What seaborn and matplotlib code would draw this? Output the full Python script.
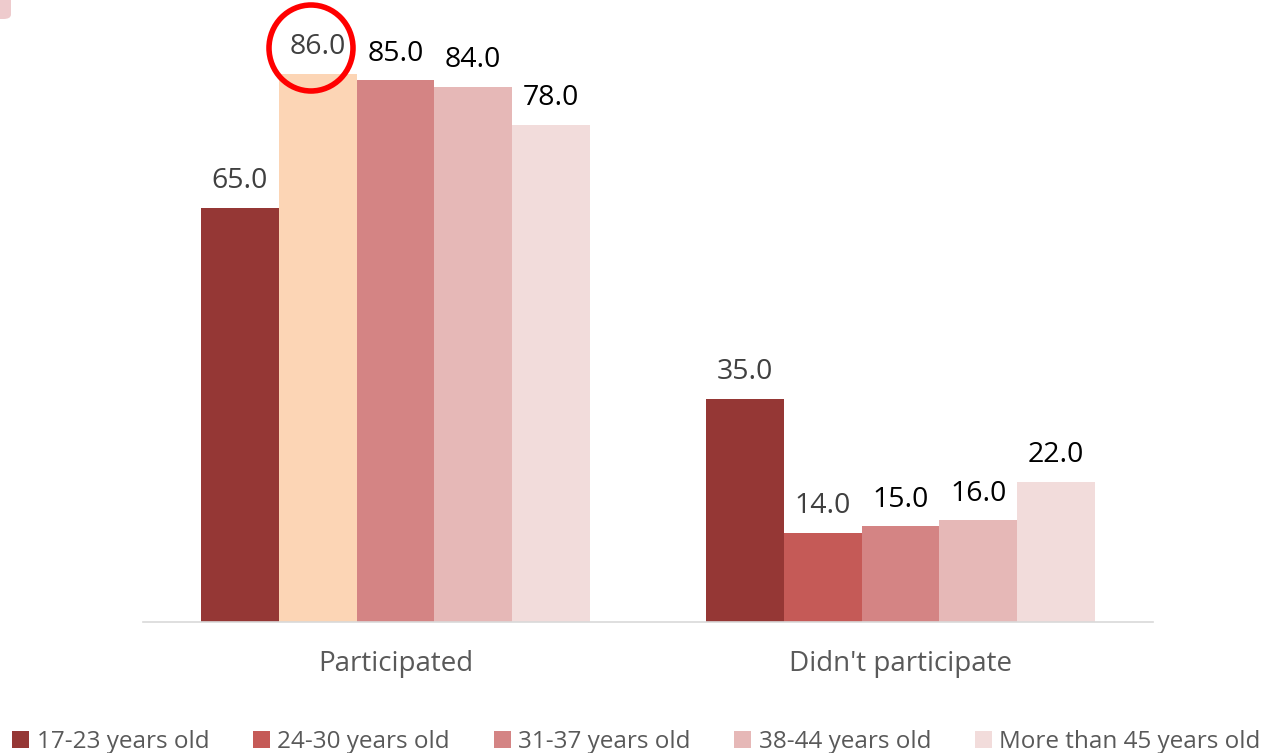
import matplotlib
matplotlib.use("Agg")
import matplotlib.pyplot as plt
from matplotlib.patches import Ellipse, Patch, FancyBboxPatch
import seaborn as sns
import pandas as pd

categories = ["Participated", "Didn't participate"]
age_groups = ["17-23 years old", "24-30 years old", "31-37 years old",
              "38-44 years old", "More than 45 years old"]
values = {
    "17-23 years old": [65.0, 35.0],
    "24-30 years old": [86.0, 14.0],
    "31-37 years old": [85.0, 15.0],
    "38-44 years old": [84.0, 16.0],
    "More than 45 years old": [78.0, 22.0],
}
colors = ["#953735", "#C55A57", "#D48484", "#E6B8B7", "#F2DCDB"]
highlight_color = "#FCD5B5"
label_colors = {
    "17-23 years old": ["#404040", "#404040"],
    "24-30 years old": ["#404040", "#404040"],
    "31-37 years old": ["#000000", "#000000"],
    "38-44 years old": ["#000000", "#000000"],
    "More than 45 years old": ["#000000", "#000000"],
}

rows = []
for g in age_groups:
    for c, v in zip(categories, values[g]):
        rows.append({"category": c, "age": g, "value": v})
df = pd.DataFrame(rows)

sns.set_theme(style="white")
plt.rcParams["font.family"] = ["Open Sans", "DejaVu Sans"]

fig = plt.figure(figsize=(12.73, 7.53), dpi=100)
ax = fig.add_axes([143 / 1273, 131 / 753, (1153 - 143) / 1273, 622 / 753])

sns.barplot(data=df, x="category", y="value", hue="age", order=categories,
            hue_order=age_groups, palette=colors, width=0.77, saturation=1,
            ax=ax, legend=False, linewidth=0)

# highlight bar
ax.containers[1][0].set_facecolor(highlight_color)

for cont, g in zip(ax.containers, age_groups):
    texts = ax.bar_label(cont, fmt="%.1f", padding=9, fontsize=20.5)
    for t, col in zip(texts, label_colors[g]):
        t.set_color(col)

ax.set_xlim(-0.5, 1.5)
ax.set_ylim(0, 97.6)
ax.set_xlabel("")
ax.set_ylabel("")
ax.set_yticks([])
for s in ["top", "left", "right"]:
    ax.spines[s].set_visible(False)
ax.spines["bottom"].set_color("#D9D9D9")
ax.spines["bottom"].set_linewidth(1.2)
ax.tick_params(axis="x", length=0, pad=20, labelsize=20, labelcolor="#595959")

# red circle highlight
circ = Ellipse((311 / 1273, 1 - 48 / 753), 84 / 1273, 86 / 753,
               transform=fig.transFigure, fill=False, edgecolor="#FF0000",
               linewidth=4.0, zorder=10)
fig.add_artist(circ)

# top-left decoration
deco = FancyBboxPatch((-10 / 1273, 1 - 19 / 753), 21 / 1273, 30 / 753,
                      boxstyle="round,pad=0,rounding_size=0.006",
                      transform=fig.transFigure, facecolor="#EECBCD",
                      edgecolor="none")
fig.add_artist(deco)

handles = [Patch(facecolor=c, edgecolor="none") for c in colors]
leg = fig.legend(handles, age_groups, loc="center", ncol=5,
                 bbox_to_anchor=(0.5, 11 / 753), frameon=False,
                 fontsize=17.5, handlelength=0.7, handleheight=0.7,
                 handletextpad=0.3, columnspacing=1.8)
for t in leg.get_texts():
    t.set_color("#595959")

fig.savefig("out.png", dpi=100, facecolor="white")
